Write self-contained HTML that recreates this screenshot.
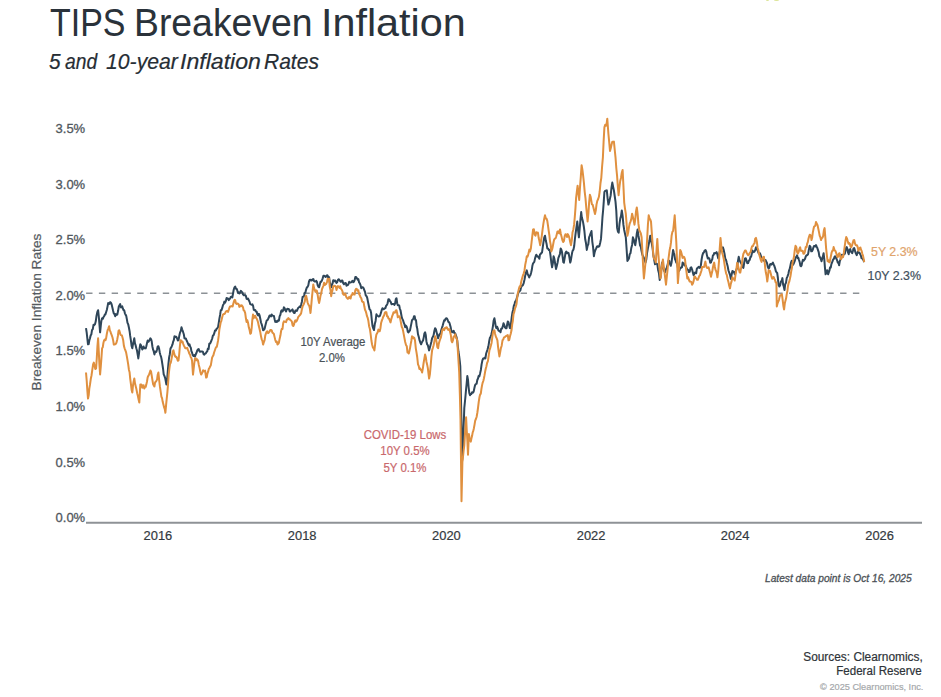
<!DOCTYPE html>
<html><head><meta charset="utf-8">
<style>
html,body{margin:0;padding:0;background:#fff;}
body{width:941px;height:697px;position:relative;overflow:hidden;font-family:"Liberation Sans",sans-serif;}
.t{position:absolute;white-space:nowrap;line-height:1;-webkit-text-stroke:0.2px currentColor;}
.tw{top:4.1px;-webkit-text-stroke:0.05px currentColor;font-size:38.5px;color:#2a323a;transform-origin:0 0;}
.sw{top:50.8px;font-size:22px;font-style:italic;color:#262d34;transform-origin:0 0;}
.yl{font-size:13px;color:#50575d;text-align:right;width:40px;left:45.2px;-webkit-text-stroke:0.3px currentColor;}
.xl{font-size:12.9px;color:#33393e;width:60px;text-align:center;}
#ytitle{font-size:13.7px;color:#555b61;left:36.8px;top:312.3px;transform:translate(-50%,-50%) rotate(-90deg);}
.ann{font-size:12.3px;text-align:center;transform:scaleX(0.93);transform-origin:50% 0;}
</style></head><body>
<div style="position:absolute;left:766px;top:-1px;width:3.2px;height:2.4px;border-radius:50%;background:#dde59a"></div>
<div style="position:absolute;left:774px;top:-1px;width:5px;height:2.4px;border-radius:50%;background:#dde59a"></div>
<div class="t tw" style="left:50.0px;transform:scaleX(0.882)">TIPS</div><div class="t tw" style="left:134.3px;transform:scaleX(0.97)">Breakeven</div><div class="t tw" style="left:321.4px;transform:scaleX(1.073)">Inflation</div>
<div class="t sw" style="left:49.2px;transform:scaleX(0.945)">5</div><div class="t sw" style="left:64.8px;transform:scaleX(0.874)">and</div><div class="t sw" style="left:106px;transform:scaleX(0.964)">10-year</div><div class="t sw" style="left:180.3px;transform:scaleX(1.05)">Inflation</div><div class="t sw" style="left:264px;transform:scaleX(0.955)">Rates</div>
<svg width="941" height="697" style="position:absolute;left:0;top:0">
<line x1="86.1" y1="293.2" x2="860" y2="293.2" stroke="#8c9196" stroke-width="1.6" stroke-dasharray="6.4 6.38"/>
<line x1="86" y1="522.8" x2="922" y2="522.8" stroke="#8e9296" stroke-width="2"/>
<path d="M86.0 328.2 L86.7 332.7 L87.3 338.1 L88.0 344.3 L88.7 344.0 L89.3 340.5 L90.0 338.3 L90.7 335.2 L91.3 334.6 L92.0 330.2 L92.8 329.2 L93.5 324.8 L94.2 325.2 L95.0 324.2 L95.8 321.1 L96.5 315.9 L97.3 312.1 L98.1 310.2 L98.8 316.5 L99.4 323.9 L100.1 332.3 L100.8 325.6 L101.4 320.7 L102.1 318.2 L102.8 318.8 L103.4 317.3 L104.1 316.3 L104.8 314.6 L105.4 314.5 L106.1 312.2 L106.8 310.0 L107.5 306.6 L108.2 303.0 L108.8 304.0 L109.5 303.8 L110.2 302.1 L110.9 302.8 L111.6 304.2 L112.3 307.3 L113.1 310.8 L113.8 313.5 L114.5 314.1 L115.2 316.2 L115.9 314.1 L116.6 314.9 L117.3 314.6 L118.1 310.8 L118.8 306.5 L119.5 305.3 L120.2 304.1 L120.9 307.4 L121.5 307.1 L122.2 306.3 L122.9 308.7 L123.5 310.1 L124.2 310.2 L124.9 313.3 L125.5 314.6 L126.2 315.7 L126.9 319.4 L127.5 322.9 L128.2 324.2 L128.9 327.5 L129.6 331.2 L130.2 335.9 L130.9 340.4 L131.6 346.0 L132.3 348.3 L133.0 344.2 L133.6 341.5 L134.3 338.3 L135.0 343.7 L135.6 345.2 L136.3 348.3 L137.0 350.5 L137.6 354.2 L138.3 358.4 L139.0 353.5 L139.6 348.1 L140.3 344.3 L141.0 345.4 L141.6 347.3 L142.3 349.5 L143.0 347.8 L143.6 346.5 L144.3 348.3 L145.0 348.1 L145.7 348.4 L146.3 346.2 L147.0 343.1 L147.7 340.4 L148.4 341.8 L149.0 341.0 L149.7 339.7 L150.4 338.3 L151.1 339.3 L151.7 341.3 L152.4 346.5 L153.1 349.7 L153.7 351.2 L154.4 354.4 L155.1 351.6 L155.7 352.1 L156.4 351.6 L157.1 349.3 L157.7 346.4 L158.4 346.3 L159.1 348.6 L159.7 352.2 L160.4 355.0 L161.1 356.9 L161.7 359.8 L162.4 364.4 L163.1 369.0 L163.7 374.4 L164.4 375.9 L165.1 377.9 L165.7 380.7 L166.4 384.5 L167.1 379.9 L167.8 371.2 L168.4 364.2 L169.1 357.5 L169.8 354.2 L170.5 348.3 L171.2 347.5 L171.8 346.2 L172.5 344.4 L173.2 341.6 L173.8 340.2 L174.5 336.3 L175.2 337.1 L175.8 336.6 L176.5 337.1 L177.2 338.6 L177.8 340.4 L178.5 340.3 L179.2 336.3 L180.0 332.6 L180.8 330.9 L181.5 327.2 L182.2 329.6 L183.0 331.7 L183.8 334.2 L184.5 338.3 L185.2 338.6 L185.9 338.6 L186.6 340.5 L187.4 342.1 L188.1 343.8 L188.8 345.4 L189.5 344.3 L190.1 346.4 L190.8 347.7 L191.4 351.1 L192.0 352.5 L192.8 355.2 L193.5 356.0 L194.2 355.1 L195.0 356.5 L195.8 354.2 L196.5 352.8 L197.2 350.6 L198.0 349.4 L198.7 349.0 L199.3 350.9 L200.0 351.8 L200.7 351.4 L201.4 351.5 L202.2 351.6 L202.9 351.7 L203.6 354.2 L204.3 354.7 L205.0 353.7 L205.7 353.4 L206.4 352.2 L207.2 351.4 L207.9 348.4 L208.6 349.0 L209.3 343.7 L210.1 343.5 L210.8 342.0 L211.5 340.3 L212.2 338.5 L212.9 335.6 L213.6 335.1 L214.3 333.2 L215.0 330.6 L215.8 330.5 L216.5 329.0 L217.3 328.1 L218.0 327.4 L218.7 323.2 L219.4 318.6 L220.1 314.9 L220.8 310.2 L221.5 310.1 L222.2 308.2 L223.0 305.0 L223.7 304.1 L224.4 301.6 L225.1 302.6 L225.9 300.8 L226.6 298.0 L227.3 298.7 L228.0 298.5 L228.7 300.1 L229.4 299.1 L230.1 298.7 L230.8 296.9 L231.6 296.6 L232.3 297.5 L233.0 293.7 L233.7 289.8 L234.5 287.4 L235.2 286.5 L235.9 288.8 L236.6 288.7 L237.3 290.4 L238.0 293.0 L238.7 292.4 L239.4 293.5 L240.2 292.2 L240.9 290.8 L241.6 291.6 L242.3 292.3 L243.0 294.4 L243.8 295.3 L244.5 295.2 L245.2 295.0 L245.9 295.9 L246.6 298.8 L247.3 299.1 L248.1 298.6 L248.8 300.3 L249.5 301.6 L250.2 304.1 L250.9 304.4 L251.7 304.7 L252.4 304.3 L253.1 305.9 L253.8 309.9 L254.5 310.2 L255.2 310.0 L255.9 311.5 L256.7 311.8 L257.4 314.5 L258.1 315.5 L258.9 313.8 L259.6 315.5 L260.3 318.8 L261.0 322.5 L261.7 324.3 L262.4 327.1 L263.1 330.3 L263.8 329.9 L264.6 328.9 L265.3 325.8 L266.0 323.1 L266.7 320.4 L267.4 320.3 L268.1 319.0 L268.9 317.3 L269.6 315.4 L270.3 315.4 L271.0 316.4 L271.7 314.5 L272.4 315.5 L273.1 315.7 L273.9 315.9 L274.6 319.2 L275.3 321.9 L276.1 322.1 L276.8 321.1 L277.5 321.7 L278.2 320.2 L278.9 320.6 L279.6 316.4 L280.4 314.7 L281.1 311.1 L281.8 310.2 L282.5 311.5 L283.2 310.5 L283.9 307.3 L284.6 308.1 L285.4 310.3 L286.1 311.4 L286.8 309.3 L287.5 308.8 L288.2 308.9 L288.9 309.2 L289.7 311.4 L290.4 311.5 L291.1 310.4 L291.8 310.1 L292.5 309.4 L293.3 311.9 L294.0 313.0 L294.7 313.1 L295.4 310.5 L296.1 310.4 L296.9 311.0 L297.6 309.1 L298.3 307.8 L299.0 307.3 L299.7 306.5 L300.4 307.2 L301.1 304.8 L301.9 301.7 L302.6 296.9 L303.3 296.5 L304.0 296.4 L304.7 293.0 L305.4 292.5 L306.1 289.6 L306.9 287.3 L307.6 286.9 L308.3 285.4 L309.0 281.5 L309.7 280.0 L310.4 279.7 L311.2 280.5 L311.9 280.4 L312.6 279.3 L313.4 279.1 L314.1 281.2 L314.8 281.5 L315.5 281.6 L316.2 280.8 L317.0 282.1 L317.7 285.4 L318.4 286.7 L319.1 287.3 L319.8 284.4 L320.5 281.7 L321.2 281.7 L322.0 280.2 L322.7 278.3 L323.4 275.8 L324.1 275.8 L324.8 275.9 L325.5 277.0 L326.2 276.6 L327.0 275.2 L327.7 275.6 L328.4 278.8 L329.1 277.2 L329.8 282.7 L330.5 284.3 L331.2 287.2 L331.9 285.1 L332.5 283.7 L333.2 280.2 L333.9 280.2 L334.5 281.2 L335.2 280.5 L335.9 281.8 L336.5 282.9 L337.2 282.2 L337.9 280.0 L338.7 279.2 L339.4 280.0 L340.2 281.2 L340.9 281.9 L341.7 280.6 L342.4 280.6 L343.2 283.2 L343.9 284.3 L344.5 283.6 L345.2 283.0 L345.9 283.2 L346.5 285.7 L347.2 285.2 L347.9 285.0 L348.6 283.8 L349.2 281.8 L349.9 282.6 L350.6 282.5 L351.3 282.2 L352.0 281.2 L352.6 280.9 L353.3 282.2 L354.0 281.5 L354.6 280.2 L355.3 277.1 L356.1 277.0 L356.8 278.0 L357.6 279.6 L358.3 279.1 L359.1 282.4 L359.8 283.3 L360.6 285.4 L361.3 288.2 L362.1 287.3 L362.8 287.3 L363.6 288.1 L364.3 290.2 L365.1 292.2 L365.8 295.5 L366.6 296.2 L367.3 298.2 L368.1 302.4 L368.9 306.3 L369.6 309.5 L370.4 310.0 L371.1 312.8 L371.8 320.0 L372.5 326.0 L373.2 328.3 L374.0 330.0 L374.8 324.0 L375.6 320.9 L376.4 314.3 L376.4 316.0 L377.1 315.2 L377.9 316.0 L378.6 316.5 L379.4 316.3 L380.1 315.5 L380.9 312.9 L381.6 310.4 L382.4 308.3 L383.1 309.0 L383.9 309.3 L384.6 308.3 L385.4 308.3 L386.1 305.8 L386.9 304.8 L387.6 303.3 L388.4 299.2 L389.2 299.5 L389.9 301.0 L390.7 301.9 L391.5 304.3 L392.2 304.0 L392.9 304.0 L393.6 304.0 L394.4 304.9 L395.1 303.6 L395.8 299.1 L396.5 298.2 L397.2 303.2 L397.8 305.3 L398.5 305.3 L399.2 305.5 L399.8 308.5 L400.5 310.3 L401.2 314.2 L401.8 317.5 L402.5 319.2 L403.2 320.7 L403.8 322.9 L404.5 324.4 L405.2 327.2 L405.8 325.6 L406.5 326.4 L407.2 328.5 L407.8 331.8 L408.5 332.4 L409.2 331.3 L410.0 330.3 L410.7 326.9 L411.3 323.9 L412.0 320.2 L412.7 319.5 L413.3 318.9 L414.0 316.2 L414.7 316.3 L415.3 319.8 L416.0 320.2 L416.7 326.5 L417.3 328.8 L418.0 334.3 L418.8 337.1 L419.6 340.4 L420.3 342.5 L421.1 344.3 L421.8 342.5 L422.4 341.5 L423.1 340.3 L423.8 337.1 L424.4 333.5 L425.1 332.3 L425.8 335.3 L426.4 341.2 L427.1 344.3 L427.8 345.1 L428.4 347.4 L429.1 350.4 L429.9 347.5 L430.6 344.7 L431.4 341.8 L432.1 338.3 L432.9 336.8 L433.6 335.2 L434.4 330.8 L435.1 328.2 L435.9 329.3 L436.6 332.2 L437.4 335.6 L438.1 338.3 L438.9 335.8 L439.6 334.0 L440.4 334.0 L441.2 330.3 L441.9 328.1 L442.7 325.6 L443.4 323.1 L444.2 320.2 L444.9 320.5 L445.5 318.9 L446.2 318.2 L446.9 318.4 L447.7 320.0 L448.4 322.0 L449.2 322.2 L449.9 324.4 L450.7 327.3 L451.4 331.6 L452.2 332.3 L452.9 331.4 L453.7 330.8 L454.4 333.2 L455.2 333.3 L455.9 335.3 L456.5 337.0 L457.2 340.3 L457.9 346.8 L458.5 352.0 L459.2 356.4 L459.8 361.4 L460.3 366.4 L461.2 410.0 L462.2 460.3 L462.8 450.0 L463.3 436.0 L464.3 408.0 L465.3 398.0 L466.0 390.1 L466.6 384.0 L467.3 376.0 L468.0 379.8 L468.6 387.0 L469.3 393.0 L470.0 395.3 L470.6 394.0 L471.3 394.0 L472.1 392.2 L472.8 392.7 L473.6 391.9 L474.3 388.5 L475.1 385.1 L475.8 384.1 L476.6 383.7 L477.3 380.0 L478.0 378.5 L478.6 376.0 L479.3 376.5 L480.1 373.4 L480.9 369.7 L481.6 364.4 L482.4 360.4 L483.1 358.5 L483.9 358.7 L484.6 357.8 L485.4 358.4 L486.1 353.8 L486.9 351.3 L487.6 349.3 L488.4 346.3 L489.1 341.8 L489.9 337.7 L490.6 336.7 L491.4 334.3 L492.1 331.1 L492.9 326.3 L493.6 320.8 L494.4 318.2 L495.1 322.2 L495.7 326.2 L496.4 328.2 L497.1 326.7 L497.8 328.4 L498.4 330.4 L499.1 330.9 L499.8 330.9 L500.5 332.3 L501.2 328.8 L502.0 328.6 L502.8 326.4 L503.5 323.2 L504.2 324.8 L505.0 327.4 L505.8 328.3 L506.5 328.2 L507.2 324.3 L507.8 321.5 L508.5 322.2 L509.2 325.3 L509.8 328.0 L510.5 328.2 L511.2 321.9 L511.8 316.6 L512.5 312.2 L513.2 309.5 L513.8 305.8 L514.5 304.1 L515.2 301.5 L515.9 301.2 L516.6 298.8 L517.4 296.1 L518.2 293.2 L518.9 291.8 L519.7 291.0 L520.4 290.4 L521.0 287.6 L521.7 285.8 L522.4 285.8 L523.0 284.9 L523.7 283.1 L524.5 279.5 L525.2 275.8 L526.0 272.3 L526.8 270.4 L527.6 274.0 L528.4 275.5 L529.2 277.5 L529.8 275.8 L530.5 274.9 L531.1 272.7 L531.8 269.8 L532.4 265.7 L533.0 263.5 L533.7 262.6 L534.3 261.9 L535.0 258.6 L535.6 256.4 L536.3 254.7 L537.1 256.4 L537.8 256.2 L538.6 257.4 L539.4 258.6 L540.0 254.4 L540.7 254.1 L541.3 253.0 L542.0 252.7 L542.6 248.4 L543.4 242.7 L544.2 237.6 L545.0 235.7 L545.8 240.6 L546.5 243.4 L547.3 248.4 L548.1 248.4 L548.9 250.1 L549.7 249.9 L550.5 255.7 L551.3 262.5 L552.1 267.3 L552.9 263.0 L553.6 256.2 L554.4 258.8 L555.2 264.0 L556.0 268.9 L556.8 265.9 L557.6 262.5 L558.4 257.8 L559.2 256.0 L559.9 254.0 L560.7 248.4 L561.3 249.4 L562.0 252.1 L562.6 256.5 L563.3 262.2 L563.9 262.6 L564.7 257.9 L565.5 252.8 L566.3 251.5 L567.1 253.3 L567.8 252.7 L568.6 253.1 L569.4 257.3 L570.2 262.6 L570.8 260.6 L571.5 256.4 L572.1 252.8 L572.8 250.3 L573.4 249.9 L574.2 246.0 L574.9 239.0 L575.7 232.6 L576.5 227.0 L577.3 221.5 L578.1 230.6 L578.9 237.3 L579.7 228.4 L580.4 220.3 L581.2 212.1 L581.8 217.3 L582.5 219.7 L583.1 222.4 L583.8 226.5 L584.4 231.0 L585.2 239.3 L586.0 243.3 L586.8 249.9 L587.6 245.7 L588.3 244.4 L589.1 237.3 L589.9 235.4 L590.7 233.0 L591.5 231.0 L592.3 241.6 L593.1 247.3 L593.9 256.2 L594.7 252.1 L595.4 250.0 L596.2 248.4 L597.0 246.5 L597.8 246.3 L598.6 246.8 L599.4 246.0 L600.2 242.7 L601.0 238.9 L601.8 227.5 L602.5 216.8 L603.1 210.5 L603.8 201.1 L604.4 192.0 L605.2 190.7 L606.0 190.9 L606.8 190.4 L607.6 198.3 L608.4 204.6 L609.2 202.0 L609.9 198.9 L610.7 195.2 L611.5 187.6 L612.3 182.6 L613.1 186.7 L613.9 190.4 L614.7 196.0 L615.5 201.6 L616.3 210.9 L617.1 227.9 L617.9 231.6 L618.7 232.6 L619.5 223.9 L620.3 218.4 L621.0 216.1 L621.8 210.5 L622.6 215.9 L623.4 224.7 L624.2 230.0 L625.0 233.7 L625.8 237.3 L626.6 249.0 L627.4 261.0 L628.2 259.8 L629.0 258.2 L629.7 254.3 L630.5 253.1 L631.3 247.9 L632.1 244.9 L632.9 237.3 L633.7 239.3 L634.5 242.6 L635.3 245.2 L636.1 239.6 L636.8 233.4 L637.6 229.5 L638.4 235.5 L639.2 239.9 L640.0 245.2 L640.8 246.8 L641.5 250.8 L642.3 254.6 L643.1 256.3 L643.9 257.9 L644.7 260.1 L645.5 262.6 L646.3 259.5 L647.1 252.7 L647.9 248.4 L648.7 244.6 L649.4 240.8 L650.2 235.8 L651.0 240.7 L651.8 243.6 L652.6 248.4 L653.4 255.5 L654.2 259.7 L655.0 264.2 L655.8 263.8 L656.5 263.5 L657.3 264.2 L658.1 269.9 L658.9 273.0 L659.7 280.0 L660.5 277.4 L661.3 268.5 L662.1 262.6 L662.9 265.5 L663.7 269.4 L664.4 271.3 L665.2 272.1 L665.8 269.4 L666.5 268.6 L667.1 266.6 L667.8 264.1 L668.4 261.0 L669.2 260.7 L670.0 263.9 L670.8 265.8 L671.6 262.2 L672.3 256.1 L673.1 250.0 L673.7 252.3 L674.4 254.6 L675.0 259.1 L675.7 260.7 L676.3 262.6 L677.1 262.4 L677.8 267.3 L678.6 271.1 L679.4 270.5 L680.0 268.5 L680.7 267.6 L681.3 267.7 L682.0 267.2 L682.6 262.6 L683.2 264.3 L683.9 263.4 L684.5 265.5 L685.2 265.3 L685.8 265.8 L686.6 268.4 L687.3 269.5 L688.1 269.9 L688.9 272.1 L689.7 271.9 L690.5 267.9 L691.3 267.3 L692.1 269.6 L692.8 272.2 L693.6 275.2 L694.2 274.1 L694.9 272.6 L695.5 272.6 L696.2 273.3 L696.8 268.9 L697.5 267.9 L698.1 267.4 L698.8 266.9 L699.5 267.9 L700.1 267.6 L700.8 265.8 L701.6 259.5 L702.3 255.6 L703.1 253.1 L703.9 252.4 L704.7 250.5 L705.5 250.0 L706.3 251.7 L707.0 255.6 L707.8 258.6 L708.6 257.9 L709.4 258.6 L710.2 262.7 L711.0 262.6 L711.6 260.5 L712.3 259.2 L712.9 255.3 L713.6 255.0 L714.2 253.1 L715.0 253.4 L715.8 252.9 L716.6 252.1 L717.4 254.7 L718.2 258.4 L719.0 255.7 L719.7 251.8 L720.5 248.9 L721.3 248.5 L722.1 248.5 L722.9 247.3 L723.7 249.9 L724.5 253.7 L725.3 258.7 L726.0 259.8 L726.8 263.1 L727.6 265.9 L728.4 270.2 L729.2 272.6 L730.0 274.9 L730.8 278.9 L731.6 274.8 L732.4 271.0 L733.2 271.9 L733.9 271.7 L734.7 274.2 L735.5 272.7 L736.3 269.8 L737.1 267.9 L737.9 261.4 L738.7 256.8 L739.5 260.1 L740.2 261.6 L741.0 263.1 L741.8 264.6 L742.6 266.8 L743.4 267.9 L744.2 262.8 L745.0 258.4 L745.8 258.3 L746.5 260.6 L747.3 263.2 L748.1 263.1 L748.9 260.6 L749.7 260.0 L750.5 256.8 L751.1 256.7 L751.8 253.7 L752.4 250.5 L753.1 251.6 L753.7 252.1 L754.5 251.5 L755.2 250.2 L756.0 247.3 L756.6 249.1 L757.3 249.6 L757.9 251.2 L758.6 253.3 L759.2 253.7 L760.0 253.4 L760.8 255.5 L761.5 259.2 L762.3 260.0 L762.9 259.2 L763.6 259.9 L764.2 260.9 L764.9 261.4 L765.5 260.0 L766.3 261.6 L767.0 263.0 L767.8 266.9 L768.6 268.6 L769.3 267.6 L770.0 264.4 L770.8 264.0 L771.5 264.6 L772.2 263.5 L772.9 262.6 L773.6 264.4 L774.3 265.8 L775.0 267.8 L775.8 271.1 L776.5 272.3 L777.2 272.9 L777.9 278.0 L778.5 285.0 L779.4 286.5 L780.2 285.0 L780.9 281.5 L781.7 280.9 L782.4 278.1 L783.1 284.7 L783.8 286.7 L784.5 290.1 L785.2 284.2 L786.0 282.8 L786.7 278.1 L787.5 276.3 L788.4 273.8 L789.0 270.6 L789.7 269.0 L790.4 265.7 L791.0 262.6 L791.7 260.8 L792.5 262.7 L793.2 264.7 L793.9 263.1 L794.5 261.7 L795.2 259.4 L795.8 257.1 L796.5 256.9 L797.1 255.2 L797.8 258.3 L798.4 257.9 L799.0 260.0 L799.7 262.1 L800.4 265.8 L801.0 266.3 L801.6 265.4 L802.3 261.9 L802.9 259.8 L803.6 260.8 L804.2 260.0 L805.0 258.9 L805.8 256.4 L806.5 255.3 L807.3 255.2 L808.1 254.1 L808.9 249.4 L809.7 245.8 L810.5 246.9 L811.2 251.3 L812.0 251.2 L812.7 249.9 L813.3 247.7 L814.0 246.1 L814.7 246.0 L815.3 246.5 L816.0 245.1 L816.7 246.7 L817.3 247.9 L818.0 250.2 L818.7 252.2 L819.3 256.1 L820.0 257.2 L820.8 258.8 L821.5 261.2 L822.2 258.7 L822.9 256.4 L823.6 253.2 L824.3 259.3 L824.9 267.1 L825.6 274.3 L826.4 272.9 L827.1 270.2 L828.1 274.3 L828.8 272.4 L829.4 270.7 L830.1 267.2 L830.7 267.7 L831.4 264.1 L832.0 262.6 L832.6 261.2 L833.2 259.3 L833.9 258.9 L834.5 256.9 L835.1 256.2 L835.8 257.2 L836.4 258.8 L837.1 260.2 L837.8 262.6 L838.4 262.2 L839.1 265.2 L839.8 261.3 L840.4 259.5 L841.1 257.2 L841.9 254.8 L842.6 254.9 L843.4 254.9 L844.1 254.2 L844.8 253.8 L845.4 251.3 L846.1 247.9 L846.7 247.1 L847.4 248.9 L848.0 252.4 L848.7 254.2 L849.5 249.9 L850.2 249.1 L850.9 251.6 L851.5 252.2 L852.2 253.2 L852.9 251.0 L853.5 248.4 L854.2 248.1 L854.8 250.1 L855.5 252.6 L856.1 253.9 L856.7 255.2 L857.5 252.5 L858.2 251.2 L858.9 252.8 L859.5 252.8 L860.2 254.2 L860.9 255.6 L861.5 258.2 L862.2 258.2 L862.9 259.2 L863.5 260.2 L864.2 262.2" fill="none" stroke="#2f4659" stroke-width="2" stroke-linejoin="round"/>
<path d="M86.0 372.5 L86.7 380.7 L87.3 389.9 L88.0 398.6 L88.7 395.4 L89.3 388.7 L90.0 384.5 L90.8 378.8 L91.5 375.5 L92.3 369.9 L93.1 364.4 L93.8 362.6 L94.6 366.0 L95.3 369.1 L96.1 368.4 L96.8 357.8 L97.4 346.7 L98.1 338.3 L98.8 351.9 L99.4 364.1 L100.1 374.5 L100.8 366.3 L101.4 358.4 L102.1 348.3 L102.8 347.2 L103.4 343.0 L104.1 340.3 L104.8 339.5 L105.4 340.3 L106.1 338.3 L106.8 334.0 L107.6 330.1 L108.3 328.6 L109.1 326.2 L109.8 330.4 L110.5 331.7 L111.1 333.7 L111.8 335.4 L112.5 337.5 L113.2 340.6 L113.8 344.5 L114.5 344.5 L115.2 344.3 L115.9 343.7 L116.5 342.6 L117.2 339.8 L117.9 335.9 L118.5 331.0 L119.2 330.2 L119.9 332.6 L120.5 334.8 L121.2 335.2 L121.9 335.5 L122.5 337.6 L123.2 340.3 L123.9 345.9 L124.6 348.3 L125.3 350.2 L126.1 352.4 L126.8 356.1 L127.5 360.2 L128.2 364.4 L128.9 369.7 L129.6 372.3 L130.2 378.6 L130.9 383.8 L131.6 389.7 L132.3 392.6 L133.0 385.4 L133.6 381.6 L134.3 378.5 L135.0 383.3 L135.7 386.2 L136.4 389.1 L137.2 393.2 L137.9 396.1 L138.6 399.5 L139.3 402.6 L140.3 384.5 L141.0 384.5 L141.6 384.7 L142.3 387.7 L143.0 386.8 L143.6 385.2 L144.3 388.5 L145.0 387.1 L145.7 386.9 L146.3 384.6 L147.0 381.5 L147.7 377.2 L148.4 375.8 L149.0 374.7 L149.7 373.0 L150.4 370.5 L151.1 371.8 L151.7 375.5 L152.4 379.8 L153.1 384.1 L153.7 385.4 L154.4 386.5 L155.1 382.4 L155.7 381.8 L156.4 380.9 L157.1 379.3 L157.7 374.7 L158.4 372.5 L159.2 380.4 L159.9 386.4 L160.7 391.8 L161.4 396.6 L162.1 398.4 L162.7 401.8 L163.4 404.5 L164.1 407.3 L164.7 408.8 L165.4 412.7 L166.1 404.8 L166.7 398.8 L167.4 392.1 L168.1 383.3 L168.7 374.6 L169.4 368.4 L170.1 363.7 L170.8 362.6 L171.4 359.6 L172.1 355.7 L172.8 351.5 L173.5 350.4 L174.2 353.6 L174.9 355.9 L175.6 357.0 L176.4 356.8 L177.1 358.5 L177.8 360.8 L178.5 360.4 L179.2 354.4 L179.8 347.2 L180.5 340.3 L181.2 340.5 L181.8 342.1 L182.5 341.6 L183.2 343.8 L183.8 345.4 L184.5 346.7 L185.2 348.2 L185.8 348.2 L186.5 348.3 L187.2 347.8 L187.9 349.9 L188.6 351.4 L189.3 353.6 L190.0 354.5 L190.7 357.1 L191.3 357.8 L192.0 360.5 L193.0 374.6 L193.7 368.5 L194.3 363.1 L195.0 358.5 L195.8 358.3 L196.5 360.3 L197.2 359.4 L198.0 360.5 L198.8 364.9 L199.6 368.0 L200.3 371.7 L201.1 374.6 L201.8 373.7 L202.4 372.4 L203.1 370.2 L203.8 371.3 L204.4 371.0 L205.1 370.6 L206.1 377.6 L206.8 377.1 L207.4 373.7 L208.1 371.7 L208.8 368.9 L209.4 368.1 L210.1 366.5 L210.8 365.4 L211.4 361.8 L212.1 357.6 L212.8 356.3 L213.4 355.3 L214.1 352.5 L214.8 350.5 L215.4 348.7 L216.1 347.2 L216.8 346.9 L217.4 344.0 L218.1 340.4 L218.7 335.9 L219.4 329.2 L220.0 326.0 L220.7 322.4 L221.3 321.1 L222.0 318.0 L222.8 314.9 L223.5 314.0 L224.3 314.0 L225.0 313.4 L225.8 311.6 L226.5 311.2 L227.2 310.8 L228.0 312.0 L228.7 310.0 L229.4 307.8 L230.0 306.4 L230.7 306.5 L231.3 306.2 L232.0 306.0 L232.6 306.4 L233.3 303.7 L233.9 301.5 L234.6 299.9 L235.2 300.2 L235.9 303.3 L236.6 303.9 L237.3 303.5 L238.0 303.7 L238.7 304.5 L239.4 306.9 L240.1 305.5 L240.8 306.2 L241.6 305.2 L242.3 306.1 L243.0 307.3 L243.7 310.6 L244.4 310.7 L245.2 313.1 L245.9 318.3 L246.6 322.1 L247.3 320.3 L248.0 322.5 L248.8 327.3 L249.5 329.6 L250.3 333.8 L251.0 333.0 L251.7 327.6 L252.3 320.1 L253.0 314.5 L253.7 318.2 L254.5 316.3 L255.2 315.7 L255.9 317.6 L256.7 318.6 L257.4 320.3 L258.1 322.5 L258.8 326.1 L259.5 328.7 L260.2 331.7 L261.0 336.3 L261.7 339.3 L262.4 340.8 L263.1 344.6 L263.8 342.3 L264.6 340.1 L265.3 335.4 L266.0 333.2 L266.7 331.7 L267.4 331.3 L268.1 333.1 L268.9 332.5 L269.6 331.5 L270.3 330.0 L271.0 330.0 L271.7 330.3 L272.4 332.7 L273.1 333.1 L273.9 334.0 L274.6 337.1 L275.3 340.1 L276.1 342.0 L276.8 341.6 L277.5 344.6 L278.2 343.9 L278.9 342.8 L279.6 338.9 L280.4 335.6 L281.1 331.0 L281.8 328.7 L282.5 328.9 L283.2 323.1 L283.9 321.3 L284.6 321.7 L285.4 321.8 L286.1 322.1 L286.8 319.6 L287.6 319.5 L288.3 318.1 L289.0 318.8 L289.7 319.2 L290.4 320.3 L291.1 320.4 L291.9 321.7 L292.6 325.3 L293.3 326.0 L294.0 324.5 L294.7 321.5 L295.4 320.3 L296.1 321.7 L296.9 320.6 L297.6 318.9 L298.3 316.9 L299.0 316.1 L299.7 315.3 L300.4 314.5 L301.1 313.4 L301.8 309.8 L302.6 306.4 L303.3 305.0 L304.0 303.5 L304.8 301.3 L305.5 296.3 L306.2 295.9 L306.9 298.9 L307.6 302.5 L308.4 304.6 L309.1 305.5 L309.8 308.0 L310.5 313.0 L311.2 305.8 L311.9 297.8 L312.6 291.0 L313.3 284.4 L314.0 287.9 L314.8 290.1 L315.5 291.9 L316.2 290.3 L316.9 290.8 L317.7 295.1 L318.4 299.8 L319.1 303.0 L319.8 299.9 L320.5 295.7 L321.2 293.2 L322.0 289.2 L322.7 287.3 L323.4 285.8 L324.1 282.7 L324.8 285.1 L325.5 284.2 L326.2 284.0 L327.0 281.8 L327.7 278.8 L328.4 280.2 L329.1 278.7 L329.8 286.8 L330.5 290.3 L331.2 296.2 L331.9 292.1 L332.5 290.1 L333.2 286.2 L333.9 286.3 L334.5 285.7 L335.2 285.9 L335.9 286.9 L336.5 290.0 L337.2 287.2 L337.9 286.1 L338.7 286.6 L339.4 287.9 L340.2 286.2 L340.9 288.7 L341.7 289.6 L342.4 291.1 L343.2 294.2 L343.9 294.9 L344.5 294.7 L345.2 293.6 L345.9 295.9 L346.5 297.3 L347.2 298.2 L347.9 298.9 L348.6 298.2 L349.2 296.8 L349.9 297.9 L350.6 298.5 L351.3 295.2 L352.0 295.1 L352.6 292.9 L353.3 293.9 L354.0 294.6 L354.6 294.6 L355.3 290.2 L356.1 288.8 L356.8 288.9 L357.6 290.8 L358.3 290.2 L359.1 294.0 L359.8 295.2 L360.6 297.4 L361.3 298.2 L362.1 301.5 L362.8 302.0 L363.6 302.3 L364.3 306.3 L365.0 309.7 L365.6 310.9 L366.3 313.1 L367.0 316.2 L367.6 317.6 L368.3 320.4 L369.1 326.2 L369.9 329.0 L370.6 333.9 L371.4 340.5 L372.1 344.5 L372.9 347.5 L373.6 348.2 L374.4 350.5 L375.1 344.6 L375.7 338.5 L376.4 334.4 L377.1 333.2 L377.7 332.2 L378.4 329.5 L379.1 330.6 L379.7 331.3 L380.4 328.4 L381.1 323.0 L381.9 320.4 L382.6 318.6 L383.4 316.3 L384.1 315.5 L384.9 312.6 L385.6 312.1 L386.4 312.3 L387.1 316.3 L387.8 316.2 L388.4 318.5 L389.1 318.5 L389.8 320.6 L390.5 322.4 L391.2 319.5 L392.0 316.7 L392.8 314.7 L393.5 312.3 L394.2 312.8 L395.0 312.6 L395.8 310.4 L396.5 310.3 L397.2 313.3 L397.8 317.3 L398.5 316.5 L399.2 316.3 L399.8 316.9 L400.5 320.4 L401.2 324.0 L401.8 327.0 L402.5 328.2 L403.2 331.3 L403.8 334.7 L404.5 338.4 L405.2 342.0 L406.0 344.9 L406.8 346.3 L407.5 352.5 L408.1 352.4 L408.8 353.5 L409.4 351.0 L410.0 348.3 L410.7 344.2 L411.3 341.0 L412.0 336.3 L412.8 336.8 L413.5 338.2 L414.2 337.7 L415.0 340.3 L415.8 348.3 L416.5 352.4 L417.2 357.0 L418.0 364.4 L418.7 365.9 L419.4 369.0 L420.1 368.4 L420.8 369.9 L421.4 370.3 L422.1 372.5 L422.9 368.1 L423.6 363.0 L424.4 358.4 L425.1 354.4 L425.8 357.2 L426.4 361.4 L427.1 364.4 L427.8 367.9 L428.4 373.0 L429.1 378.5 L429.9 374.2 L430.6 366.7 L431.4 356.7 L432.1 350.4 L432.9 347.8 L433.6 345.3 L434.4 341.1 L435.1 336.3 L435.9 338.5 L436.6 342.1 L437.4 347.3 L438.1 348.3 L438.8 343.6 L439.5 341.2 L440.1 339.5 L440.8 337.7 L441.5 334.3 L442.2 330.3 L442.9 328.8 L443.5 329.7 L444.2 330.1 L444.9 328.0 L445.5 328.3 L446.2 327.2 L446.9 327.5 L447.5 328.9 L448.2 329.9 L448.9 329.2 L449.5 329.2 L450.2 332.3 L450.9 335.4 L451.5 340.8 L452.2 342.3 L452.9 340.5 L453.7 336.4 L454.4 336.5 L455.2 334.3 L455.9 337.4 L456.5 338.4 L457.2 340.3 L458.2 356.4 L459.2 372.5 L459.9 395.6 L460.5 420.0 L461.5 501.3 L462.4 462.1 L463.0 456.7 L463.7 450.0 L464.3 445.3 L464.9 435.1 L465.5 427.4 L466.1 417.3 L466.7 429.6 L467.4 441.1 L468.0 454.7 L468.9 434.1 L469.5 437.7 L470.2 440.4 L470.8 441.6 L471.4 438.6 L472.1 435.8 L472.7 432.3 L473.3 430.9 L473.9 428.2 L474.5 424.8 L475.2 420.7 L475.9 419.0 L476.6 417.0 L477.3 413.0 L478.0 408.0 L478.8 401.3 L479.5 397.0 L480.1 394.6 L480.8 393.6 L481.4 389.1 L482.0 385.6 L482.6 382.9 L483.3 381.0 L483.9 378.5 L484.5 375.4 L485.1 371.8 L485.8 368.5 L486.4 366.4 L487.1 363.0 L487.9 361.2 L488.6 356.3 L489.4 350.4 L490.1 348.4 L490.9 345.5 L491.6 342.7 L492.4 336.3 L493.1 331.5 L493.7 330.7 L494.4 330.3 L495.1 333.9 L495.9 336.8 L496.6 338.1 L497.4 340.3 L498.1 347.1 L498.7 351.6 L499.4 356.4 L500.2 352.1 L500.9 348.1 L501.7 345.7 L502.5 340.3 L503.2 339.6 L504.0 337.4 L504.8 337.1 L505.5 336.3 L506.2 336.0 L507.0 335.5 L507.8 335.1 L508.5 340.3 L509.2 340.0 L510.0 336.3 L510.8 333.5 L511.5 330.3 L512.2 324.3 L512.8 321.1 L513.5 314.2 L514.2 312.2 L515.0 308.3 L515.8 306.6 L516.5 304.1 L517.1 298.4 L517.8 293.2 L518.4 290.9 L519.1 288.0 L519.7 286.2 L520.4 286.9 L521.0 282.8 L521.7 279.8 L522.4 277.4 L523.0 275.2 L523.7 273.6 L524.5 270.4 L525.2 264.9 L526.0 261.0 L526.8 256.2 L527.4 256.8 L528.1 255.1 L528.7 252.5 L529.4 249.6 L530.0 251.5 L530.8 248.8 L531.6 242.0 L532.4 235.2 L533.1 229.4 L533.9 229.3 L534.7 234.6 L535.5 235.7 L536.3 232.2 L537.1 233.0 L537.9 232.6 L538.7 238.1 L539.4 241.1 L540.2 245.2 L541.0 241.0 L541.8 235.8 L542.6 229.4 L543.4 223.7 L544.2 218.9 L545.0 215.2 L545.8 218.6 L546.5 218.5 L547.3 220.8 L548.1 226.3 L548.7 230.9 L549.4 235.5 L550.0 241.3 L550.7 244.6 L551.3 251.5 L552.1 249.4 L552.8 246.4 L553.6 242.0 L554.2 239.4 L554.9 238.7 L555.5 238.4 L556.2 236.5 L556.8 234.2 L557.4 231.7 L558.1 231.3 L558.7 232.9 L559.4 233.4 L560.0 229.4 L560.8 233.8 L561.5 236.4 L562.3 239.9 L563.1 242.0 L563.9 241.1 L564.7 236.1 L565.5 234.2 L566.3 234.6 L567.0 237.1 L567.8 234.1 L568.6 235.7 L569.4 238.0 L570.2 242.0 L571.0 245.2 L571.8 240.4 L572.5 232.6 L573.3 229.7 L574.1 224.7 L574.8 216.8 L575.5 207.7 L576.1 197.9 L576.8 192.0 L577.6 185.7 L578.4 192.8 L579.2 199.9 L580.0 187.4 L580.8 176.9 L581.6 165.2 L582.4 169.7 L583.1 175.4 L583.9 182.6 L584.7 191.8 L585.5 198.3 L586.2 206.9 L586.9 213.8 L587.6 221.5 L588.4 213.5 L589.1 202.9 L589.9 194.7 L590.6 196.8 L591.2 200.1 L591.9 204.4 L592.6 204.6 L593.4 207.5 L594.2 210.8 L595.0 214.1 L595.8 210.3 L596.5 204.6 L597.3 200.9 L598.1 199.3 L598.9 196.8 L599.7 191.5 L600.5 183.0 L601.3 177.8 L602.1 166.5 L602.9 157.3 L603.6 141.7 L604.4 127.4 L605.2 124.8 L606.0 125.8 L606.6 123.8 L607.3 118.7 L607.8 125.7 L608.4 133.7 L609.2 142.2 L610.0 151.0 L610.8 148.1 L611.5 144.7 L612.3 141.8 L613.1 142.0 L613.9 141.5 L614.7 149.5 L615.5 157.3 L616.3 168.0 L617.1 176.2 L617.9 187.1 L618.6 195.2 L619.4 187.5 L620.2 181.0 L621.0 177.9 L621.8 172.7 L622.6 169.9 L623.4 185.3 L624.2 202.6 L625.0 208.6 L625.8 213.7 L626.6 223.6 L627.4 235.8 L628.2 232.3 L629.0 226.9 L629.7 223.5 L630.5 221.6 L631.3 218.9 L632.1 213.7 L632.9 217.0 L633.7 220.5 L634.5 224.7 L635.3 218.8 L636.0 211.5 L636.8 207.4 L637.6 213.6 L638.4 223.7 L639.2 229.5 L640.0 231.8 L640.8 233.3 L641.6 237.3 L642.4 251.5 L643.1 265.7 L643.9 278.4 L644.7 270.9 L645.5 262.3 L646.3 253.1 L647.1 239.8 L647.9 225.0 L648.7 215.3 L649.5 218.5 L650.2 219.3 L651.0 221.6 L651.8 232.9 L652.6 244.0 L653.4 256.3 L654.2 259.1 L655.0 259.4 L655.8 262.6 L656.5 251.1 L657.3 238.9 L657.9 248.7 L658.6 257.1 L659.2 265.0 L659.9 272.2 L660.5 278.4 L661.3 272.5 L662.1 264.5 L662.9 259.4 L663.7 265.8 L664.5 272.5 L665.2 278.0 L666.0 284.7 L666.8 276.9 L667.6 269.3 L668.4 259.4 L669.0 254.8 L669.7 249.7 L670.3 247.3 L671.0 242.4 L671.6 235.8 L672.4 231.9 L673.1 231.0 L673.9 223.7 L674.7 215.3 L675.5 228.6 L676.3 242.1 L677.1 261.8 L677.9 283.1 L678.7 273.1 L679.4 261.7 L680.2 250.0 L681.0 251.5 L681.8 254.6 L682.6 257.9 L683.4 256.7 L684.2 257.2 L685.0 259.4 L685.8 266.6 L686.5 272.0 L687.3 278.4 L688.1 277.2 L688.9 279.8 L689.7 281.5 L690.5 281.6 L691.3 281.9 L692.1 284.7 L692.9 283.5 L693.7 280.8 L694.4 276.6 L695.2 276.8 L695.8 278.3 L696.5 278.4 L697.1 279.8 L697.8 279.8 L698.4 278.4 L699.2 276.2 L700.0 275.2 L700.7 272.8 L701.5 270.5 L702.1 266.9 L702.8 267.2 L703.4 266.7 L704.1 266.9 L704.7 264.2 L705.4 261.6 L706.0 264.9 L706.7 267.6 L707.3 268.0 L708.0 267.9 L708.6 267.3 L709.4 270.2 L710.2 273.3 L711.0 276.8 L711.6 274.0 L712.3 271.3 L712.9 267.5 L713.6 264.3 L714.2 262.6 L714.8 266.5 L715.5 269.8 L716.1 270.9 L716.8 273.5 L717.4 277.3 L718.2 271.4 L719.0 261.2 L719.7 248.9 L720.5 237.9 L721.3 246.1 L722.1 252.4 L722.9 255.2 L723.7 258.7 L724.5 264.1 L725.3 269.4 L726.1 273.3 L726.8 274.9 L727.6 278.9 L728.4 281.9 L729.2 285.8 L730.0 288.4 L730.8 283.9 L731.6 281.4 L732.4 277.3 L733.2 278.5 L733.9 279.0 L734.7 280.5 L735.5 274.9 L736.3 270.0 L737.1 263.1 L737.7 263.6 L738.4 267.1 L739.0 269.8 L739.7 272.5 L740.3 272.6 L741.1 268.1 L741.8 264.4 L742.6 258.0 L743.4 253.7 L744.2 252.3 L745.0 250.5 L745.8 250.5 L746.6 252.7 L747.3 253.9 L748.1 255.2 L748.7 255.0 L749.4 253.3 L750.0 252.6 L750.7 251.8 L751.3 248.9 L752.1 246.2 L752.9 246.1 L753.7 244.2 L754.5 243.3 L755.2 238.7 L756.0 237.9 L756.8 241.4 L757.6 247.7 L758.4 250.5 L759.2 254.4 L760.0 257.3 L760.8 260.0 L761.6 261.9 L762.3 258.4 L763.1 257.1 L763.9 256.8 L764.6 261.6 L765.3 268.7 L765.9 272.8 L766.6 276.1 L767.3 281.5 L768.0 275.9 L768.6 270.3 L769.3 271.1 L770.0 270.8 L770.8 273.7 L771.5 276.5 L772.2 278.8 L772.9 277.2 L773.6 277.0 L774.3 278.7 L775.0 279.9 L775.7 282.6 L776.4 282.4 L776.8 306.5 L777.5 303.6 L778.3 301.5 L779.0 299.8 L779.8 296.1 L780.5 295.1 L781.2 294.8 L781.9 294.4 L782.6 299.3 L783.4 306.1 L784.1 309.5 L784.8 303.5 L785.4 300.9 L786.1 298.3 L786.7 294.4 L787.4 290.9 L788.0 286.0 L788.6 283.2 L789.3 281.5 L789.9 278.9 L790.5 276.0 L791.2 271.4 L791.8 268.6 L792.5 263.1 L793.3 259.8 L794.0 256.5 L794.8 249.8 L795.5 245.8 L796.3 247.0 L797.1 252.1 L797.9 253.7 L798.7 251.8 L799.4 248.9 L800.2 247.3 L800.8 250.7 L801.5 250.9 L802.1 250.8 L802.8 251.0 L803.4 253.7 L804.2 253.6 L805.0 251.2 L805.7 247.1 L806.5 247.3 L807.1 243.8 L807.8 242.1 L808.4 239.1 L809.1 236.5 L809.7 234.7 L810.3 234.9 L810.9 236.1 L811.5 240.1 L812.2 237.4 L812.8 232.6 L813.5 229.1 L814.1 226.6 L814.8 226.2 L815.4 225.3 L816.0 222.0 L816.8 223.9 L817.5 225.0 L818.2 228.2 L819.0 232.1 L819.7 235.8 L820.3 237.0 L821.0 240.1 L821.7 238.1 L822.4 237.8 L823.1 236.1 L823.9 230.4 L824.6 228.1 L825.4 238.4 L826.1 248.1 L826.9 255.6 L827.6 261.2 L828.4 260.3 L829.1 262.2 L829.8 262.2 L830.4 258.5 L831.1 255.2 L831.7 252.3 L832.4 250.5 L833.0 250.6 L833.6 247.1 L834.3 249.4 L834.9 250.5 L835.6 251.2 L836.3 253.4 L836.9 255.1 L837.6 257.2 L838.3 256.1 L838.9 253.6 L839.6 253.2 L840.4 257.1 L841.1 259.2 L841.8 257.5 L842.4 255.7 L843.1 257.2 L843.9 252.4 L844.6 247.1 L845.4 241.3 L846.2 237.1 L847.0 238.4 L847.7 241.1 L848.5 243.7 L849.2 243.1 L849.9 243.7 L850.5 246.6 L851.2 247.1 L852.0 245.5 L852.7 243.1 L853.5 240.3 L854.2 240.1 L855.0 243.5 L855.7 245.1 L856.4 245.4 L857.0 245.3 L857.7 247.1 L858.4 250.8 L859.0 249.5 L859.7 248.1 L860.4 247.5 L861.0 249.7 L861.7 251.2 L862.4 254.1 L863.0 255.6 L863.7 259.2 L864.2 262.2" fill="none" stroke="#e0903f" stroke-width="2" stroke-linejoin="round"/>
</svg>
<div class="t yl" style="top:122.0px">3.5%</div>
<div class="t yl" style="top:177.6px">3.0%</div>
<div class="t yl" style="top:233.2px">2.5%</div>
<div class="t yl" style="top:288.8px">2.0%</div>
<div class="t yl" style="top:344.4px">1.5%</div>
<div class="t yl" style="top:400.0px">1.0%</div>
<div class="t yl" style="top:455.6px">0.5%</div>
<div class="t yl" style="top:511.2px">0.0%</div>
<div class="t xl" style="left:127.9px;top:530.2px">2016</div>
<div class="t xl" style="left:272.2px;top:530.2px">2018</div>
<div class="t xl" style="left:416.4px;top:530.2px">2020</div>
<div class="t xl" style="left:561.1px;top:530.2px">2022</div>
<div class="t xl" style="left:705.1px;top:530.2px">2024</div>
<div class="t xl" style="left:849.6px;top:530.2px">2026</div>
<div class="t" id="ytitle">Breakeven Inflation Rates</div>
<div class="t ann" style="left:298px;top:333.6px;width:68px;color:#4a5258;line-height:16.4px">10Y Average<br>2.0%</div>
<div class="t ann" style="left:359.5px;top:426.6px;width:90px;color:#c9686c;line-height:16.7px">COVID-19 Lows<br>10Y 0.5%<br>5Y 0.1%</div>
<div class="t" style="left:871px;top:246px;font-size:12.4px;color:#dfa46c">5Y 2.3%</div>
<div class="t" style="left:867.5px;top:269.5px;font-size:12.4px;color:#42505d">10Y 2.3%</div>
<div class="t" style="left:765px;top:574px;font-size:10.2px;font-style:italic;color:#4c5257;-webkit-text-stroke:0.3px currentColor">Latest data point is Oct 16, 2025</div>
<div class="t" style="right:18px;top:651px;font-size:12px;color:#2e3338;transform:scaleX(0.99);transform-origin:100% 0">Sources: Clearnomics,</div>
<div class="t" style="right:19px;top:665px;font-size:12px;color:#2e3338;transform:scaleX(0.963);transform-origin:100% 0">Federal Reserve</div>
<div class="t" style="right:17.3px;top:682.3px;font-size:9.4px;color:#a5a8ab;transform:scaleX(0.98);transform-origin:100% 0">&copy; 2025 Clearnomics, Inc.</div>
</body></html>
